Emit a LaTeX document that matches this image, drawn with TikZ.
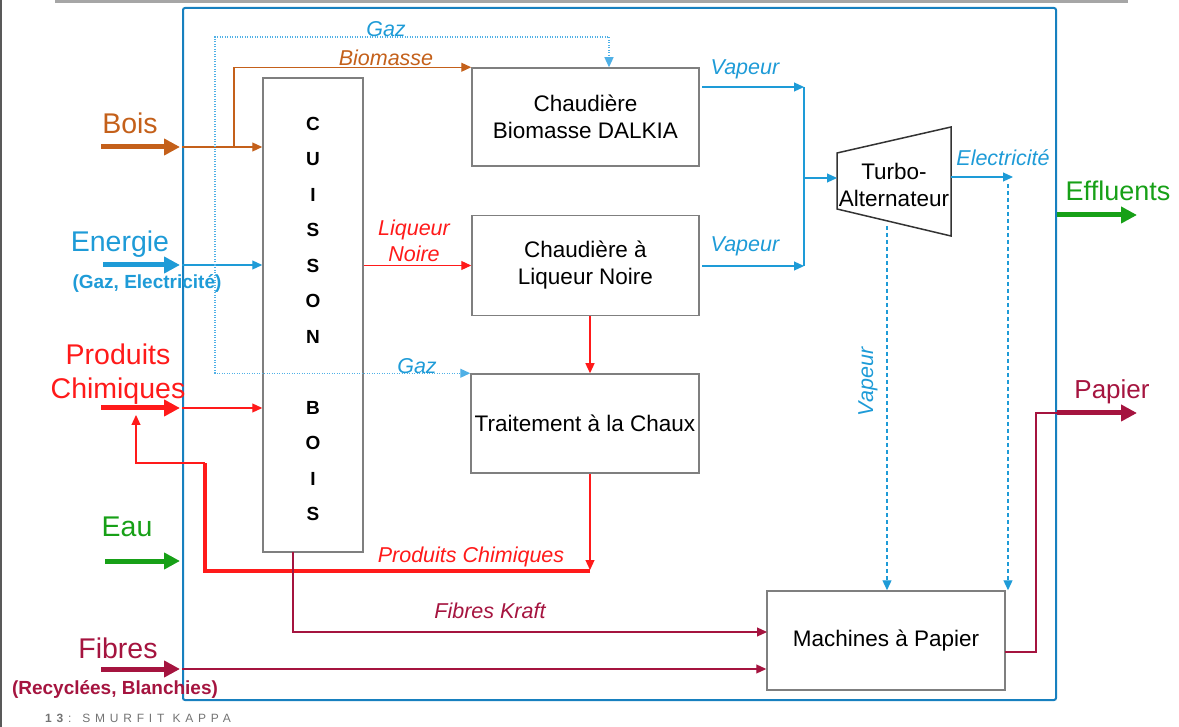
\documentclass[tikz,border=0pt]{standalone}
\usepackage{fontspec}
\setmainfont{Liberation Sans}
\usepackage{tikz}
\usetikzlibrary{arrows.meta}
\definecolor{BoisBrown}{HTML}{C4601A}
\definecolor{EnerBlue}{HTML}{1E9BD7}
\definecolor{GazBlue}{HTML}{4FB0E6}
\definecolor{SiteBlue}{HTML}{1780BF}
\definecolor{ChemRed}{HTML}{FF1A1A}
\definecolor{EauGreen}{HTML}{17A017}
\definecolor{FibreRed}{HTML}{A5143F}
\definecolor{BoxGray}{HTML}{7F7F7F}

\begin{document}
\begin{tikzpicture}[
  x=1pt, y=-1pt,
  box/.style={draw=BoxGray, line width=1.5pt, fill=white, align=center, inner sep=0pt,
    font=\fontsize{22.5}{27}\selectfont},
  inlbl/.style={font=\fontsize{28.5}{34}\selectfont, inner sep=0pt},
  sublbl/.style={font=\fontsize{19}{22}\selectfont\bfseries, inner sep=0pt},
  lbl/.style={font=\fontsize{21.5}{26}\selectfont\itshape, inner sep=0pt},
  thickin/.style={line width=5pt, -{Triangle[length=16pt,width=16pt]}},
  flow/.style={line width=1.2pt, -{Triangle[length=10pt,width=9pt]}},
  dashflow/.style={draw=EnerBlue, line width=1.3pt, dash pattern=on 4pt off 3pt, -{Triangle[length=10pt,width=9pt]}},
  gazflow/.style={draw=GazBlue, line width=1.2pt, dash pattern=on 1pt off 1.5pt, -{Triangle[length=10pt,width=9pt]}},
]
\useasboundingbox (0,0) rectangle (1179,727);

% ============ slide frame ============
\draw[draw=black!35, line width=3.5pt] (55,1.5) -- (1128,1.5);
\draw[draw=black!65, line width=1.5pt] (1,0) -- (1,727);
\node[anchor=west, inner sep=0pt, text=black!55,
  font=\fontsize{12}{14}\selectfont\addfontfeature{LetterSpace=40}] (footer) at (45,718)
  {\textbf{13}: SMURFIT KAPPA};

% ============ site boundary ============
\node[draw=SiteBlue, line width=2pt, rounded corners=2pt, inner sep=0pt,
  minimum width=873pt, minimum height=692pt] (site) at (619.5,354) {};

% ============ process boxes ============
\node[box, minimum width=100pt, minimum height=474pt] (cuisson) at (313,315) {};
\node[font=\fontsize{19}{35.5}\selectfont\bfseries, align=center, inner sep=0pt]
  (cuissonTxt) at (313,319) {C\\U\\I\\S\\S\\O\\N\\[35.5pt]B\\O\\I\\S};
\node[box, minimum width=227pt, minimum height=98pt] (dalkia) at (585.5,117) {Chaudière\\Biomasse DALKIA};
\node[box, minimum width=227pt, minimum height=100pt] (liqbox) at (585.5,265.5) {Chaudière à\\Liqueur Noire};
\node[box, minimum width=228pt, minimum height=99pt] (chaux) at (585,423.5) {Traitement à la Chaux};
\node[box, minimum width=238pt, minimum height=99pt] (machines) at (886,640.5) {Machines à Papier};

% turbine
\draw[draw=black!80, line width=1.5pt, fill=white] (837,153) -- (951,127) -- (951,236) -- (837,209) -- cycle;
\node[align=center, inner sep=0pt, font=\fontsize{22.5}{27}\selectfont] (turbo) at (894,185) {Turbo-\\Alternateur};

% ============ inputs ============
% bois
\coordinate (boisIn) at (101,147);
\coordinate (boisSplit) at (234,147);
\draw[thickin, BoisBrown] (boisIn) -- ([xshift=-2pt]boisIn -| site.west);
\draw[flow, BoisBrown] (boisIn -| site.west) -- (boisIn -| cuisson.west);
\draw[flow, BoisBrown] (boisSplit) |- (dalkia.north west);
\node[inlbl, text=BoisBrown] (boisLbl) at (130,123) {Bois};
\node[lbl, text=BoisBrown] (biomLbl) at (386,58) {Biomasse};

% energie + gaz
\coordinate (enerIn) at (103,265);
\coordinate (gazSplit) at (215,265);
\coordinate (gazTop) at (609,37);
\draw[thickin, EnerBlue] (enerIn) -- ([xshift=-2pt]enerIn -| site.west);
\draw[flow, EnerBlue] (enerIn -| site.west) -- (enerIn -| cuisson.west);
\draw[gazflow] (gazSplit) |- (gazTop) -- (gazTop |- dalkia.north);
\draw[gazflow] (gazSplit) |- (chaux.north west);
\node[inlbl, text=EnerBlue] (enerLbl) at (120,244) {Energie};
\node[sublbl, text=EnerBlue] (enerSub) at (147,284) {(Gaz, Electricité)};
\node[lbl, text=EnerBlue] (gazLblA) at (386,29) {Gaz};
\node[lbl, text=EnerBlue] (gazLblB) at (417,366) {Gaz};

% produits chimiques
\coordinate (chemIn) at (101,408);
\draw[thickin, ChemRed] (chemIn) -- ([xshift=-2pt]chemIn -| site.west);
\draw[flow, ChemRed] (chemIn -| site.west) -- (chemIn -| cuisson.west);
\node[inlbl, text=ChemRed, align=center] (chemLbl) at (118,374) {Produits\\Chimiques};

% eau
\coordinate (eauIn) at (105,561);
\draw[thickin, EauGreen] (eauIn) -- ([xshift=-2pt]eauIn -| site.west);
\node[inlbl, text=EauGreen] (eauLbl) at (127,527) {Eau};

% fibres
\coordinate (fibIn) at (101,669);
\draw[thickin, FibreRed] (fibIn) -- ([xshift=-2pt]fibIn -| site.west);
\draw[flow, FibreRed] (fibIn -| site.west) -- (fibIn -| machines.west);
\node[inlbl, text=FibreRed] (fibLbl) at (118,648) {Fibres};
\node[sublbl, text=FibreRed] (fibSub) at (115,690) {(Recyclées, Blanchies)};

% ============ internal flows ============
% liqueur noire and chemicals loop
\coordinate (redAxis) at (590,0);
\coordinate (chemBack) at (590,571);
\coordinate (backCorner) at (205,463);
\coordinate (chemLoop) at (136,415);
\draw[flow, ChemRed] (liqbox.west -| cuisson.east) -- (liqbox.west);
\draw[flow, ChemRed] (redAxis |- liqbox.south) -- (redAxis |- chaux.north);
\draw[flow, ChemRed] (redAxis |- chaux.south) -- ([yshift=1pt]chemBack);
\draw[ChemRed, line width=4pt] (chemBack) -| (backCorner);
\draw[flow, ChemRed] (backCorner) -| (chemLoop);
\node[lbl, text=ChemRed, align=center] (liqLbl) at (414,241) {Liqueur\\Noire};
\node[lbl, text=ChemRed] (chemBackLbl) at (471,557) {Produits Chimiques};

% fibres kraft
\coordinate (kraft) at (293,552);
\coordinate (kraftIn) at (767,632);
\draw[flow, FibreRed] (kraft) |- (kraftIn);
\node[lbl, text=FibreRed] (kraftLbl) at (490,611) {Fibres Kraft};

% vapeur to turbine
\coordinate (vapBar) at (804,0);
\coordinate (vapA) at (702,87);
\coordinate (vapB) at (702,266);
\coordinate (turboIn) at (837,178);
\draw[flow, EnerBlue] (vapA) -- (vapA -| vapBar);
\draw[flow, EnerBlue] (vapB) -- (vapB -| vapBar);
\draw[EnerBlue, line width=2pt] (vapA -| vapBar) -- (vapB -| vapBar);
\draw[flow, EnerBlue] (turboIn -| vapBar) -- (turboIn);
\node[lbl, text=EnerBlue] (vapLblA) at (745,69) {Vapeur};
\node[lbl, text=EnerBlue] (vapLblB) at (745,246) {Vapeur};

% turbine outputs
\coordinate (turboOut) at (951,177);
\coordinate (elecEnd) at (1013,177);
\coordinate (elecDrop) at (1008,184);
\coordinate (turboBot) at (887,226);
\draw[flow, EnerBlue] (turboOut) -- (elecEnd);
\draw[dashflow] (elecDrop) -- (elecDrop |- machines.north);
\draw[dashflow] (turboBot) -- (turboBot |- machines.north);
\node[lbl, text=EnerBlue] (elecLbl) at (1003,158) {Electricité};
\node[lbl, text=EnerBlue, rotate=90] (vapLblC) at (868,382) {Vapeur};

% ============ outputs ============
\coordinate (papOut) at (1005,652);
\coordinate (papUp) at (1036,413);
\coordinate (papEnd) at (1137,413);
\coordinate (effEnd) at (1137,215);
\draw[FibreRed, line width=2pt] (papOut) -| (papUp) -- (papUp -| site.east);
\draw[thickin, FibreRed] (papUp -| site.east) -- (papEnd);
\draw[thickin, EauGreen] (effEnd -| site.east) -- (effEnd);
\node[inlbl, text=FibreRed, font=\fontsize{26}{30}\selectfont] (papLbl) at (1112,392) {Papier};
\node[inlbl, text=EauGreen, font=\fontsize{27}{32}\selectfont] (effLbl) at (1118,191) {Effluents};

\end{tikzpicture}
\end{document}
